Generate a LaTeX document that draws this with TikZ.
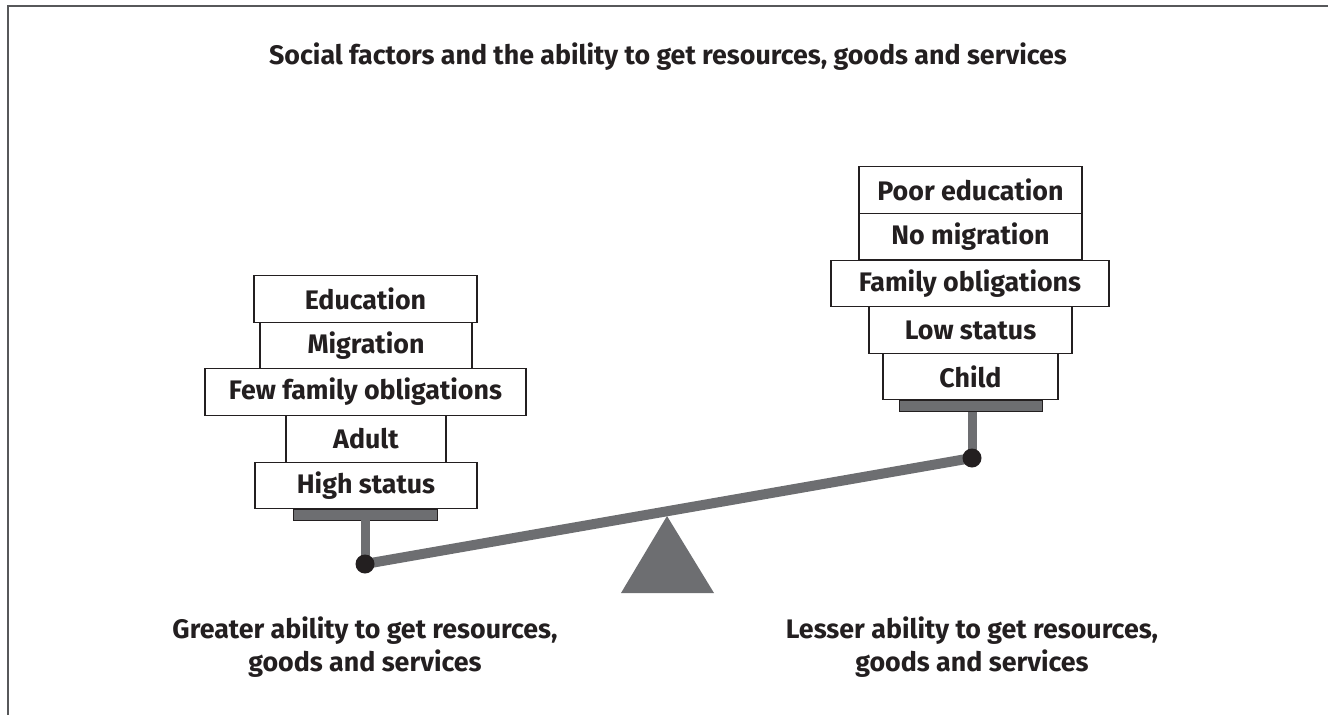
\documentclass[tikz,border=0pt]{standalone}
\usepackage{fontspec}
\setmainfont{Fira Sans}
\definecolor{ink}{HTML}{231F20}
\definecolor{steel}{HTML}{6D6E71}
\begin{document}
\begin{tikzpicture}[x=1pt,y=-1pt,
  every node/.style={font=\bfseries\fontsize{26.8}{33}\selectfont, text=ink},
  factor/.style={draw=ink, line width=1.1pt, fill=white, minimum height=46.6pt, inner sep=0pt},
  plate/.style={draw=ink, line width=0.6pt, fill=steel, minimum height=11pt, inner sep=0pt},
  post/.style={draw=steel, line width=9pt},
  beam/.style={draw=steel, line width=10pt},
  pivot/.style={circle, fill=ink, minimum size=19pt, inner sep=0pt},
  caption/.style={align=center},
  frame/.style={draw=steel!80!black, line width=1.5pt}]
\useasboundingbox (0,0) rectangle (1328,715);
% open frame: top and left edges only
\draw[frame] (1328,6) -- (8,6) -- (8,715);
% title
\node (title) at (668,57) {Social factors and the ability to get resources, goods and services};
% left stack
\node[factor, minimum width=223pt] (l1) at (365.5,299) {Education};
\node[factor, minimum width=212pt] (l2) at (366,345.5) {Migration};
\node[factor, minimum width=321pt] (l3) at (365.5,392) {Few family obligations};
\node[factor, minimum width=160pt] (l4) at (366,439) {Adult};
\node[factor, minimum width=222pt] (l5) at (366,485.5) {High status};
\node[plate, minimum width=144pt] (lplate) at (365,514.5) {};
% right stack
\node[factor, minimum width=223pt] (r1) at (970.5,190) {Poor education};
\node[factor, minimum width=223pt] (r2) at (970.5,236.5) {No migration};
\node[factor, minimum width=278pt] (r3) at (970,283.5) {Family obligations};
\node[factor, minimum width=203pt] (r4) at (970.5,330) {Low status};
\node[factor, minimum width=175pt] (r5) at (970.5,376.5) {Child};
\node[plate, minimum width=143pt] (rplate) at (970.5,406) {};
% lever
\coordinate (lend) at (365,564);
\coordinate (rend) at (972,458);
\draw[beam] (lend) -- (rend);
\draw[post] (lplate.south -| lend) -- (lend);
\draw[post] (rplate.south -| rend) -- (rend);
\node[pivot] (lpin) at (lend) {};
\node[pivot] (rpin) at (rend) {};
% fulcrum
\coordinate (apex) at (667,516);
\coordinate (baseL) at (621,593);
\coordinate (baseR) at (714,593);
\fill[steel] (apex) -- (baseR) -- (baseL) -- cycle;
% captions
\node[caption] (gain) at (365,647) {Greater ability to get resources,\\goods and services};
\node[caption] (loss) at (972,647) {Lesser ability to get resources,\\goods and services};
\end{tikzpicture}
\end{document}
